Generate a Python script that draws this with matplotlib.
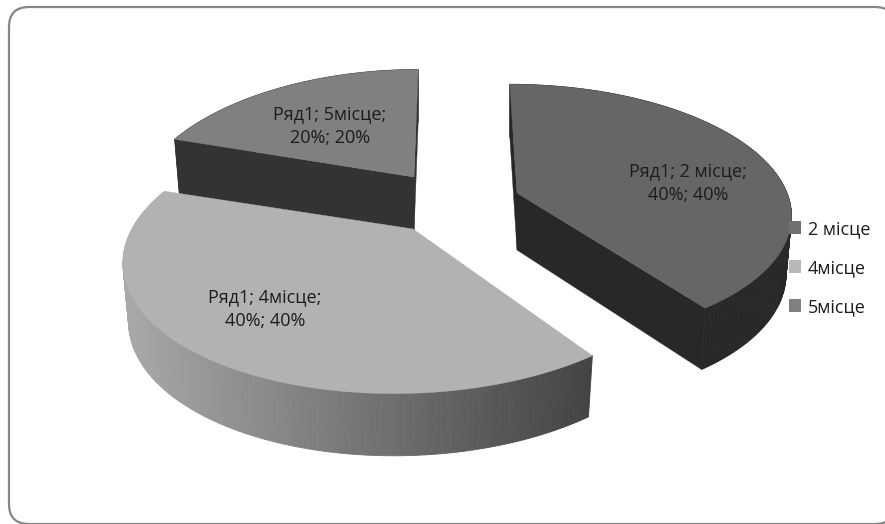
import numpy as np
import matplotlib
matplotlib.use("Agg")
import matplotlib.pyplot as plt
from matplotlib.patches import FancyBboxPatch, Polygon, Patch
from matplotlib.collections import PolyCollection

# ---- data ----
series_name = "Ряд1"
categories = ["2 місце", "4місце", "5місце"]
values = [40, 40, 20]
start_angle = 0.0
top_colors = ["#666666", "#b2b2b2", "#808080"]
side_colors = ["#282828", None, "#333333"]
legend_colors = ["#707070", "#b8b8b8", "#808080"]

# ---- 3D pie projection settings (pixels) ----
W, H = 885, 524
centers = [(517, 193), (413, 229), (414, 177)]
radius_x = [270, 276, 266]
radius_y = [125, 130, 130]
persp = [0.15, 0.21, 0.21]
arc_dx = [0, -5, -5]
vanish_x = 462
depth = 57
depth_persp = 0.13
label_pos = [(688, 183), (265, 309), (330, 126)]

plt.rcParams["font.family"] = ["Open Sans", "Noto Sans", "DejaVu Sans"]
fig = plt.figure(figsize=(W / 100, H / 100), dpi=100, facecolor="white")
ax = fig.add_axes([0, 0, 1, 1])
ax.set_xlim(0, W)
ax.set_ylim(H, 0)
ax.axis("off")

ax.add_patch(FancyBboxPatch((9 + 20, 7 + 20), 895 - 9 - 40, 524 - 7 - 40,
                            boxstyle="round,pad=20,rounding_size=20",
                            fc="white", ec="#868686", lw=1.6))


def project(idx, theta_deg, r=1.0, lower=False):
    t = np.radians(theta_deg)
    u, v = np.sin(t) * r, np.cos(t) * r
    s = 1 / (1 + persp[idx] * v)
    cx, cy = centers[idx]
    k = 0.98 if lower else 1.0
    x = vanish_x + (cx - vanish_x + arc_dx[idx] * r + radius_x[idx] * u * k) * s
    y = cy - radius_y[idx] * v * k * s
    if lower:
        y = y + depth / (1 + depth_persp * v)
    return np.column_stack([x, y])


def side_gray(x):
    g = np.interp(x, [125, 596], [168, 66])
    return (g / 255, g / 255, g / 255)


fractions = np.array(values) / sum(values) * 360
edges = start_angle + np.concatenate([[0], np.cumsum(fractions)])
spans = {i: (edges[i], edges[i + 1]) for i in range(len(values))}

# draw order: far slice first, then the near ones
for i in (2, 0, 1):
    a0, a1 = spans[i]
    th = np.linspace(a0, a1, 160)
    top = project(i, th)
    low = project(i, th, lower=True)
    apex_t = project(i, np.array([0.0]), r=0.0)
    apex_b = project(i, np.array([0.0]), r=0.0, lower=True)
    fill = side_colors[i]
    # outer wall
    quads, cols = [], []
    for j in range(len(th) - 1):
        quads.append([top[j], top[j + 1], low[j + 1], low[j]])
        xm = top[j:j + 2, 0].mean()
        cols.append(fill if fill else side_gray(xm))
    ax.add_collection(PolyCollection(quads, facecolors=cols, edgecolors=cols, linewidths=0.6))
    # cut faces (the near slice shows none of its own)
    if fill:
        ax.add_patch(Polygon([apex_t[0], top[0], low[0], apex_b[0]], fc=fill, ec=fill, lw=0.3))
        ax.add_patch(Polygon([apex_t[0], top[-1], low[-1], apex_b[0]], fc=fill, ec=fill, lw=0.3))
    # top face
    ax.add_patch(Polygon(np.vstack([apex_t, top]), fc=top_colors[i], ec=top_colors[i], lw=0.3))

for (x, y), cat, val in zip(label_pos, categories, values):
    ax.text(x, y, f"{series_name}; {cat};\n{val}%; {val}%", ha="center", va="center",
            fontsize=13, color="#1c1c1c", linespacing=1.4)

handles = [Patch(fc=c, ec="none") for c in legend_colors]
ax.legend(handles, categories, loc="upper left", bbox_to_anchor=(780 / W, 1 - 211 / H),
          frameon=False, fontsize=13, handlelength=0.68, handleheight=0.68,
          handletextpad=0.35, labelspacing=1.16, borderpad=0, labelcolor="#1c1c1c")

fig.savefig("out.png", dpi=100)
